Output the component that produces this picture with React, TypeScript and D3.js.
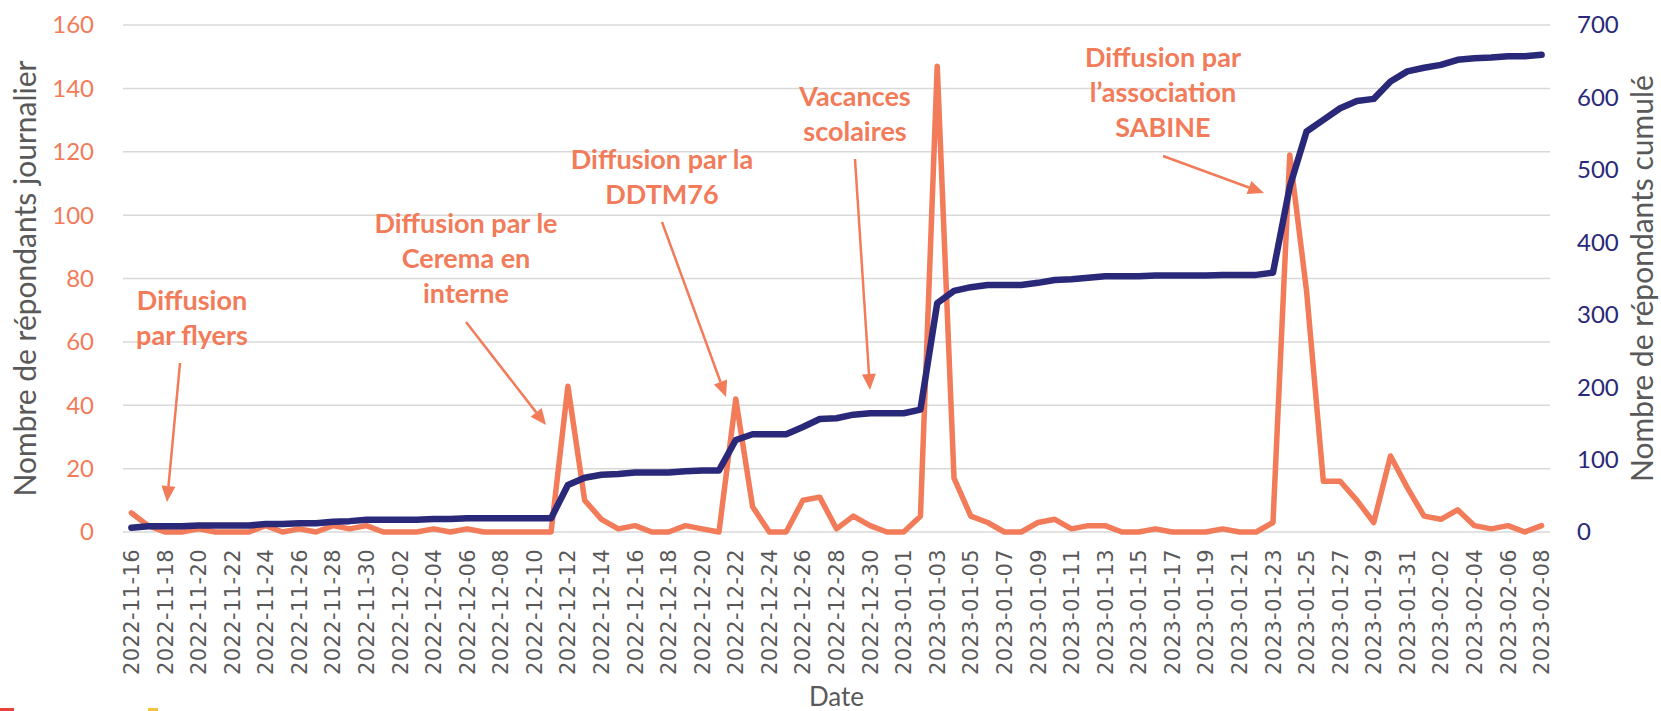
import React from "react";
import * as d3 from "d3";

const W = 1661;
const H = 711;
const ORANGE = "#F27B59";
const NAVY = "#2A2878";
const GRID = "#D9D9D9";
const GREY = "#595959";

// one category per day, 2022-11-16 .. 2023-02-08
const dates = d3
  .utcDay.range(new Date(Date.UTC(2022, 10, 16)), new Date(Date.UTC(2023, 1, 9)))
  .map(d3.utcFormat("%Y-%m-%d"));

// daily respondents (left axis)
const daily = [
  6, 2, 0, 0, 1, 0, 0, 0, 2, 0, 1, 0, 2, 1, 2, 0, 0, 0, 1, 0, 1, 0, 0, 0, 0,
  0, 46, 10, 4, 1, 2, 0, 0, 2, 1, 0, 42, 8, 0, 0, 10, 11, 1, 5, 2, 0, 0, 5,
  147, 17, 5, 3, 0, 0, 3, 4, 1, 2, 2, 0, 0, 1, 0, 0, 0, 1, 0, 0, 3,
  119, 76, 16, 16, 10, 3, 24, 14, 5, 4, 7, 2, 1, 2, 0, 2,
];

// cumulative respondents (right axis)
const cumulative = [
  6, 8, 8, 8, 9, 9, 9, 9, 11, 11, 12, 12, 14, 15, 17, 17, 17, 17, 18, 18, 19, 19, 19, 19, 19,
  19, 65, 75, 79, 80, 82, 82, 82, 84, 85, 85, 127, 135, 135, 135, 145, 156, 157, 162, 164, 164, 164, 169,
  316, 333, 338, 341, 341, 341, 344, 348, 349, 351, 353, 353, 353, 354, 354, 354, 354, 355, 355, 355, 358,
  477, 553, 569, 585, 595, 598, 622, 636, 641, 645, 652, 654, 655, 657, 657, 659,
];

const leftTicks = [0, 20, 40, 60, 80, 100, 120, 140, 160];
const rightTicks = [0, 100, 200, 300, 400, 500, 600, 700];

const leftTitle = "Nombre de répondants journalier";
const rightTitle = "Nombre de répondants cumulé";
const xTitle = "Date";

// callouts: text lines, text centre / first baseline, arrow from -> to (pixels)
const annotations = [
  { lines: ["Diffusion", "par flyers"], x: 192, y: 310, from: [180, 363], to: [167, 502] },
  { lines: ["Diffusion par le", "Cerema en", "interne"], x: 466, y: 233, from: [466, 322], to: [546, 425] },
  { lines: ["Diffusion par la", "DDTM76"], x: 662, y: 169, from: [662, 222], to: [726, 397] },
  { lines: ["Vacances", "scolaires"], x: 855, y: 106, from: [855, 159], to: [870, 390] },
  { lines: ["Diffusion par", "l’association", "SABINE"], x: 1163, y: 67, from: [1163, 156], to: [1264, 193] },
];

const Arrow = ({ from, to }: { from: number[]; to: number[] }) => {
  const dx = to[0] - from[0];
  const dy = to[1] - from[1];
  const len = Math.hypot(dx, dy);
  const ux = dx / len, uy = dy / len;
  const hl = 16, hw = 7;
  const bx = to[0] - ux * hl, by = to[1] - uy * hl;
  const head = [
    [to[0], to[1]],
    [bx - uy * hw, by + ux * hw],
    [bx + uy * hw, by - ux * hw],
  ];
  return (
    <g>
      <line x1={from[0]} y1={from[1]} x2={bx} y2={by} stroke={ORANGE} strokeWidth={2.5} />
      <polygon points={head.map((p) => p.join(",")).join(" ")} fill={ORANGE} />
    </g>
  );
};

export default function App() {
  const left = 123, right = 1550, top = 25, bottom = 532;

  const x = d3.scalePoint<string>().domain(dates).range([left, right]).padding(0.5);
  const yL = d3.scaleLinear().domain([0, 160]).range([bottom, top]);
  const yR = d3.scaleLinear().domain([0, 700]).range([bottom, top]);

  const dailyLine = d3
    .line<number>()
    .x((_, i) => x(dates[i])!)
    .y((d) => yL(d));
  const cumLine = d3
    .line<number>()
    .x((_, i) => x(dates[i])!)
    .y((d) => yR(d));

  const xLabels = dates.filter((_, i) => i % 2 === 0);

  return (
    <svg width={W} height={H} style={{ position: "absolute", left: 0, top: 0, background: "#fff" }}>
      <rect width={W} height={H} fill="#fff" />

      {leftTicks.map((t) => (
        <line key={t} x1={left} x2={right} y1={yL(t)} y2={yL(t)} stroke={GRID} strokeWidth={1.5} />
      ))}

      {leftTicks.map((t) => (
        <text key={t} x={94} y={yL(t)} dy="0.35em" textAnchor="end" fill={ORANGE}
          fontFamily="Lato" fontSize={24}>{t}</text>
      ))}
      {rightTicks.map((t) => (
        <text key={t} x={1577} y={yR(t)} dy="0.35em" textAnchor="start" fill={NAVY}
          fontFamily="Lato" fontSize={24}>{t}</text>
      ))}

      {xLabels.map((d) => (
        <text key={d} transform={`translate(${x(d)},549) rotate(-90)`} dy="0.36em" textAnchor="end"
          fill={GREY} fontFamily="DejaVu Sans" fontSize={21} letterSpacing={0.4}>{d}</text>
      ))}

      <text transform={`translate(36,${(top + bottom) / 2}) rotate(-90)`} textAnchor="middle"
        fill={GREY} fontFamily="Lato" fontSize={30}>{leftTitle}</text>
      <text transform={`translate(1653,${(top + bottom) / 2}) rotate(-90)`} textAnchor="middle"
        fill={GREY} fontFamily="Lato" fontSize={30}>{rightTitle}</text>
      <text x={(left + right) / 2} y={706} textAnchor="middle" fill={GREY}
        fontFamily="Lato" fontSize={26}>{xTitle}</text>

      <path d={dailyLine(daily)!} fill="none" stroke={ORANGE} strokeWidth={5.5}
        strokeLinejoin="round" strokeLinecap="round" />
      <path d={cumLine(cumulative)!} fill="none" stroke={NAVY} strokeWidth={6.5}
        strokeLinejoin="round" strokeLinecap="round" />

      {annotations.map((a, k) => (
        <g key={k}>
          <text textAnchor="middle" fill={ORANGE} fontFamily="Lato" fontWeight="bold" fontSize={27}>
            {a.lines.map((l, j) => (
              <tspan key={j} x={a.x} y={a.y + j * 35}>{l}</tspan>
            ))}
          </text>
          <Arrow from={a.from} to={a.to} />
        </g>
      ))}

      <rect x={0} y={708} width={14} height={3} fill="#E8413C" />
      <rect x={148} y={708} width={10} height={3} fill="#F5C242" />
    </svg>
  );
}
